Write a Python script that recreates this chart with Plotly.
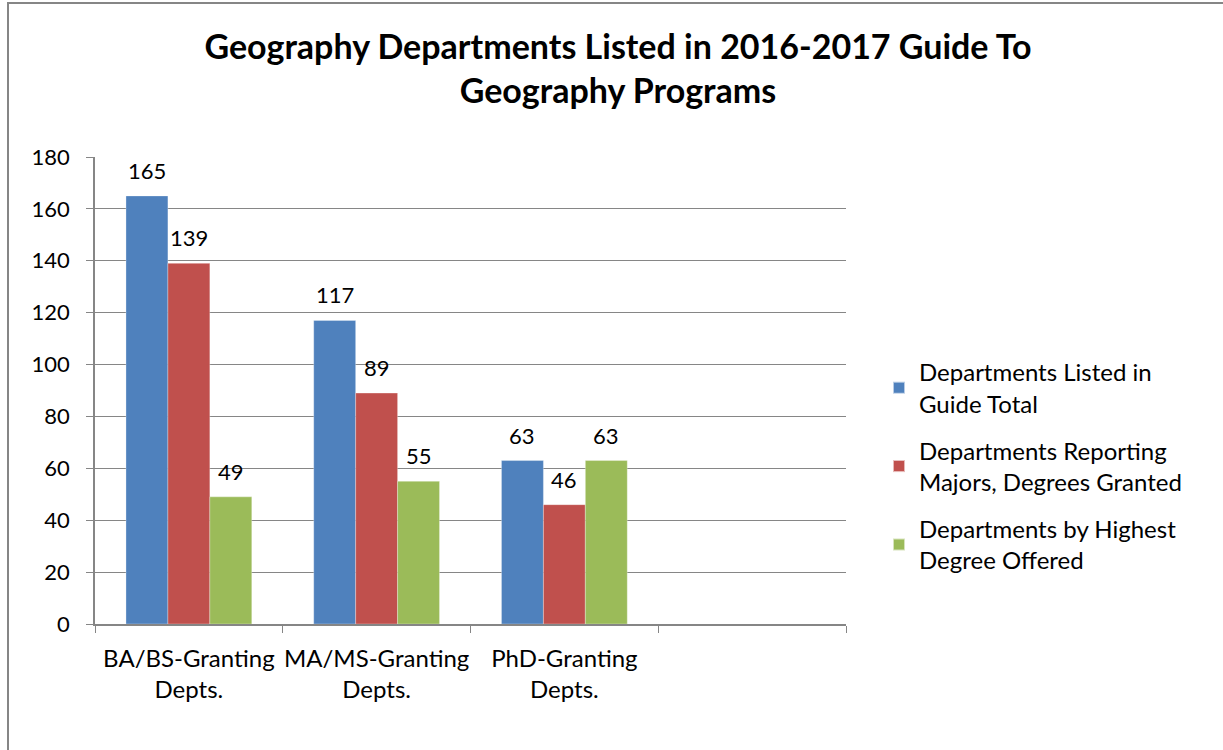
import plotly.graph_objects as go

categories = ["BA/BS-Granting<br>Depts.", "MA/MS-Granting<br>Depts.", "PhD-Granting<br>Depts.", " "]
series_names = ["Departments Listed in<br>Guide Total",
                "Departments Reporting<br>Majors, Degrees Granted",
                "Departments by Highest<br>Degree Offered"]
listed_total = [165, 117, 63, None]
reporting_majors = [139, 89, 46, None]
highest_degree = [49, 55, 63, None]
colors = ["#4F81BD", "#C0504D", "#9BBB59"]
y_ticks = list(range(0, 181, 20))

FONT = "Lato"
fig = go.Figure()
all_series = [listed_total, reporting_majors, highest_degree]
bar_px = 42
for i, (name, vals, col) in enumerate(zip(series_names, all_series, colors)):
    fig.add_trace(go.Bar(
        x=categories, y=vals, name=name,
        marker=dict(color=col, line=dict(color="rgba(255,255,255,0.6)", width=0.5)),
        legendgroup=name,
    ))
    for c, v in zip(categories, vals):
        if v is None:
            continue
        fig.add_annotation(x=c, y=v, text=str(v), showarrow=False,
                           xanchor="center", yanchor="bottom",
                           xshift=(i - 1) * bar_px, yshift=10,
                           font=dict(family=FONT, size=22, color="black"))

L, R, T, B = 95, 846, 157, 624
W, H = 1223, 750
def px(x): return (x - L) / (R - L)
def py(y): return (B - y) / (B - T)

fig.update_layout(
    width=W, height=H,
    margin=dict(l=L, r=W - R, t=T, b=H - B, pad=0, autoexpand=False),
    paper_bgcolor="white", plot_bgcolor="white",
    barmode="group", bargap=0.33, bargroupgap=0,
    font=dict(family=FONT, size=22, color="black"),
    title=dict(text="<b>Geography Departments Listed in 2016-2017 Guide To<br>Geography Programs</b>",
               x=618 / W, xanchor="center", y=1 - 59 / H, yanchor="middle",
               font=dict(family=FONT, size=34, color="black")),
    showlegend=True,
    legend=dict(x=px(879), xanchor="left", y=py(350), yanchor="top",
                font=dict(family=FONT, size=24, color="black"),
                tracegroupgap=13, itemsizing="constant", bgcolor="rgba(0,0,0,0)"),
    xaxis=dict(type="category", tickson="boundaries", ticks="outside", ticklen=7,
               tickcolor="#868686", showline=True, linecolor="#868686", linewidth=1.5,
               showgrid=False, ticklabelstandoff=12, tickangle=0, automargin=False,
               tickfont=dict(family=FONT, size=24, color="black")),
    yaxis=dict(range=[0, 180], tickvals=y_ticks, ticks="outside", ticklen=7,
               tickcolor="#868686", showline=True, linecolor="#868686", linewidth=1.5,
               showgrid=True, gridcolor="#868686", gridwidth=1, zeroline=False,
               automargin=False, ticklabelstandoff=12,
               tickfont=dict(family=FONT, size=22, color="black")),
    shapes=[dict(type="rect", xref="paper", yref="paper",
                 x0=px(8), x1=px(1226), y0=py(754), y1=py(3),
                 line=dict(color="#868686", width=2), fillcolor="rgba(0,0,0,0)", layer="below")],
)
fig.write_html("out.html", config={"displayModeBar": False},
               post_script="document.body.style.margin='0';")
